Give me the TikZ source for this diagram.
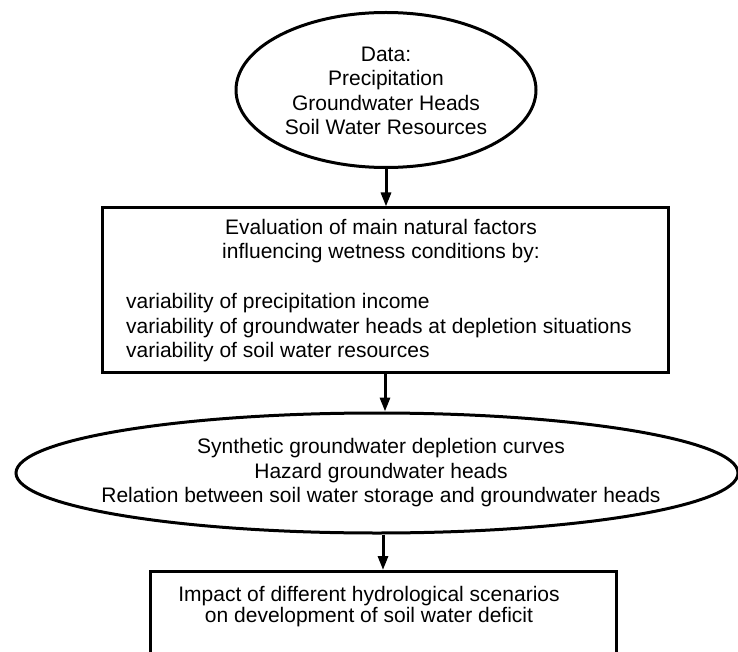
\documentclass[tikz,border=0pt]{standalone}
\usepackage{fontspec}
\setmainfont{Liberation Sans}
\usetikzlibrary{shapes.geometric,arrows.meta}

\tikzset{
  oval/.style={draw, ellipse, line width=3pt, inner sep=0pt},
  frame/.style={draw, rectangle, line width=3pt, inner sep=0pt},
  txt/.style={font=\fontsize{21}{24.5}\selectfont, align=center, inner sep=0pt},
  flow/.style={line width=3pt, -{Triangle[length=14pt,width=10pt]}}
}

\begin{document}
\begin{tikzpicture}[x=1pt,y=-1pt]
\useasboundingbox (0,0) rectangle (738,652);
\clip (0,0) rectangle (738,652);

% ===== Khung =====
\node[oval, minimum width=300pt, minimum height=155pt] (data) at (386,90) {};
\node[frame, minimum width=566pt, minimum height=164pt] (eval) at (385,290) {};
\node[oval, minimum width=722pt, minimum height=120pt] (synth) at (377,473) {};
\node[frame, minimum width=466pt, minimum height=140pt, anchor=north] (impact) at (383,570) {};

% ===== Chu =====
\node[txt] (datatxt) at (386,91) {Data:\\Precipitation\\Groundwater Heads\\Soil Water Resources};

\node[txt] (evaltxt) at (381,241) {Evaluation of main natural factors\\influencing wetness conditions by:};
\node[txt, align=left, anchor=west] (evallist) at (126,328) {variability of precipitation income\\variability of groundwater heads at depletion situations\\variability of soil water resources};

\node[txt] (synthtxt) at (381,473) {Synthetic groundwater depletion curves\\Hazard groundwater heads\\Relation between soil water storage and groundwater heads};

\node[txt, font=\fontsize{21}{21}\selectfont] (impacttxt) at (369,607) {Impact of different hydrological scenarios\\on development of soil water deficit};

% ===== Mui ten =====
\draw[flow] (data.south) -- (data.south |- eval.north);
\draw[flow] (eval.south) -- (eval.south |- synth.north);
\draw[flow] (synth.south -| impact.north) -- (impact.north);

\end{tikzpicture}
\end{document}
